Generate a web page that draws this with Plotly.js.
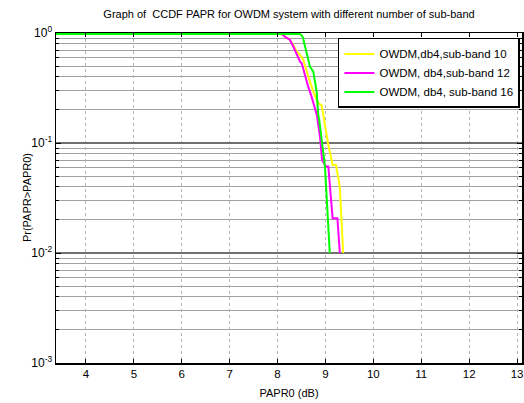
<!DOCTYPE html>
<html>
<head>
<meta charset="utf-8">
<script src="https://cdn.plot.ly/plotly-3.0.1.min.js"></script>
<style>html,body{margin:0;padding:0;background:#fff;}#chart{width:524px;height:403px;}</style>
</head>
<body>
<div id="chart"></div>
<script>
var seriesNames = ["OWDM,db4,sub-band 10", "OWDM, db4,sub-band 12", "OWDM, db4, sub-band 16"];
var seriesColors = ["#ffff00", "#ff00ff", "#00ff00"];

var papr10 = [3.0, 8.085, 8.155, 8.26, 8.33, 8.40, 8.47, 8.54, 8.61, 8.677, 8.746, 8.82, 8.85, 8.92, 8.955, 9.01, 9.06, 9.15, 9.22, 9.30, 9.34, 9.37];
var ccdf10 = [0.98, 0.98, 0.926, 0.864, 0.778, 0.676, 0.631, 0.568, 0.445, 0.361, 0.293, 0.246, 0.229, 0.222, 0.18, 0.131, 0.096, 0.063, 0.063, 0.040, 0.0207, 0.01];

var papr12 = [3.0, 8.085, 8.155, 8.26, 8.33, 8.40, 8.47, 8.505, 8.57, 8.64, 8.71, 8.78, 8.82, 8.886, 8.93, 9.01, 9.06, 9.15, 9.25, 9.30];
var ccdf12 = [0.98, 0.98, 0.926, 0.864, 0.75, 0.631, 0.548, 0.53, 0.415, 0.325, 0.264, 0.207, 0.18, 0.114, 0.07, 0.061, 0.061, 0.0207, 0.0207, 0.01];

var papr16 = [3.0, 8.47, 8.525, 8.57, 8.64, 8.677, 8.746, 8.78, 8.817, 8.85, 8.87, 8.99, 9.026, 9.09];
var ccdf16 = [0.98, 0.98, 0.926, 0.778, 0.589, 0.494, 0.445, 0.361, 0.293, 0.18, 0.162, 0.061, 0.030, 0.01];

var xTicks = [4, 5, 6, 7, 8, 9, 10, 11, 12, 13];
var yTickVals = [0.001, 0.01, 0.1, 1];
var yTickText = ["10<sup>-3</sup>", "10<sup>-2</sup>", "10<sup>-1</sup>", "10<sup>0</sup>"];
var yMinorVals = [0.002,0.003,0.004,0.005,0.006,0.007,0.008,0.009,0.02,0.03,0.04,0.05,0.06,0.07,0.08,0.09,0.2,0.3,0.4,0.5,0.6,0.7,0.8,0.9];
var yTitle = "Pr(PAPR>PAPR0)";

var xs = [papr10, papr12, papr16];
var ys = [ccdf10, ccdf12, ccdf16];
var traces = [];
for (var i = 0; i < 3; i++) {
  traces.push({
    x: xs[i], y: ys[i], type: "scatter", mode: "lines",
    name: seriesNames[i],
    line: {color: seriesColors[i], width: 2}
  });
}

var font = {family: "Liberation Sans, Arial, sans-serif", size: 11, color: "#000"};

var layout = {
  width: 524, height: 403,
  margin: {l: 56, r: 2, t: 33, b: 40},
  paper_bgcolor: "#fff", plot_bgcolor: "#fff",
  font: font,
  showlegend: true,
  title: {text: "Graph of  CCDF PAPR for OWDM system with different number of sub-band",
          font: {family: font.family, size: 11, color: "#000"},
          x: 0.5, xref: "paper", xanchor: "center", y: 0.965, yanchor: "middle"},
  xaxis: {
    range: [3.374, 13.104],
    tickmode: "array", tickvals: xTicks,
    ticks: "inside", ticklen: 4, tickcolor: "#000",
    showline: true, linecolor: "#000", linewidth: 1.5, mirror: "allticks",
    showgrid: true, gridcolor: "#b4b4b4", griddash: "dot", gridwidth: 1,
    zeroline: false,
    tickfont: {family: font.family, size: 11.5, color: "#000"},
    title: {text: "PAPR0 (dB)", font: {family: font.family, size: 11, color: "#000"}, standoff: 10}
  },
  yaxis: {
    type: "log", range: [-3, 0],
    tickmode: "array", tickvals: yTickVals, ticktext: yTickText,
    ticks: "inside", ticklen: 5, tickcolor: "#000",
    showline: true, linecolor: "#000", linewidth: 1.5, mirror: "allticks",
    showgrid: true, gridcolor: "#707070", gridwidth: 1.5,
    zeroline: false,
    minor: {tickmode: "array", tickvals: yMinorVals, ticks: "inside", ticklen: 3, tickcolor: "#000",
            showgrid: true, gridcolor: "#a0a0a0", gridwidth: 1},
    tickfont: {family: font.family, size: 12, color: "#000"}
  },
  annotations: [{
    text: yTitle, textangle: -90, showarrow: false,
    xref: "paper", yref: "paper", x: -0.062, y: 0.5,
    xanchor: "center", yanchor: "middle",
    font: {family: font.family, size: 11, color: "#000"}
  }],
  legend: {
    x: 0.605, y: 0.985, xanchor: "left", yanchor: "top",
    bgcolor: "#fff", bordercolor: "#000", borderwidth: 1.5,
    font: {family: font.family, size: 11.5, color: "#000"},
    tracegroupgap: 0
  }
};

Plotly.newPlot("chart", traces, layout, {displayModeBar: false, staticPlot: true});
</script>
</body>
</html>
